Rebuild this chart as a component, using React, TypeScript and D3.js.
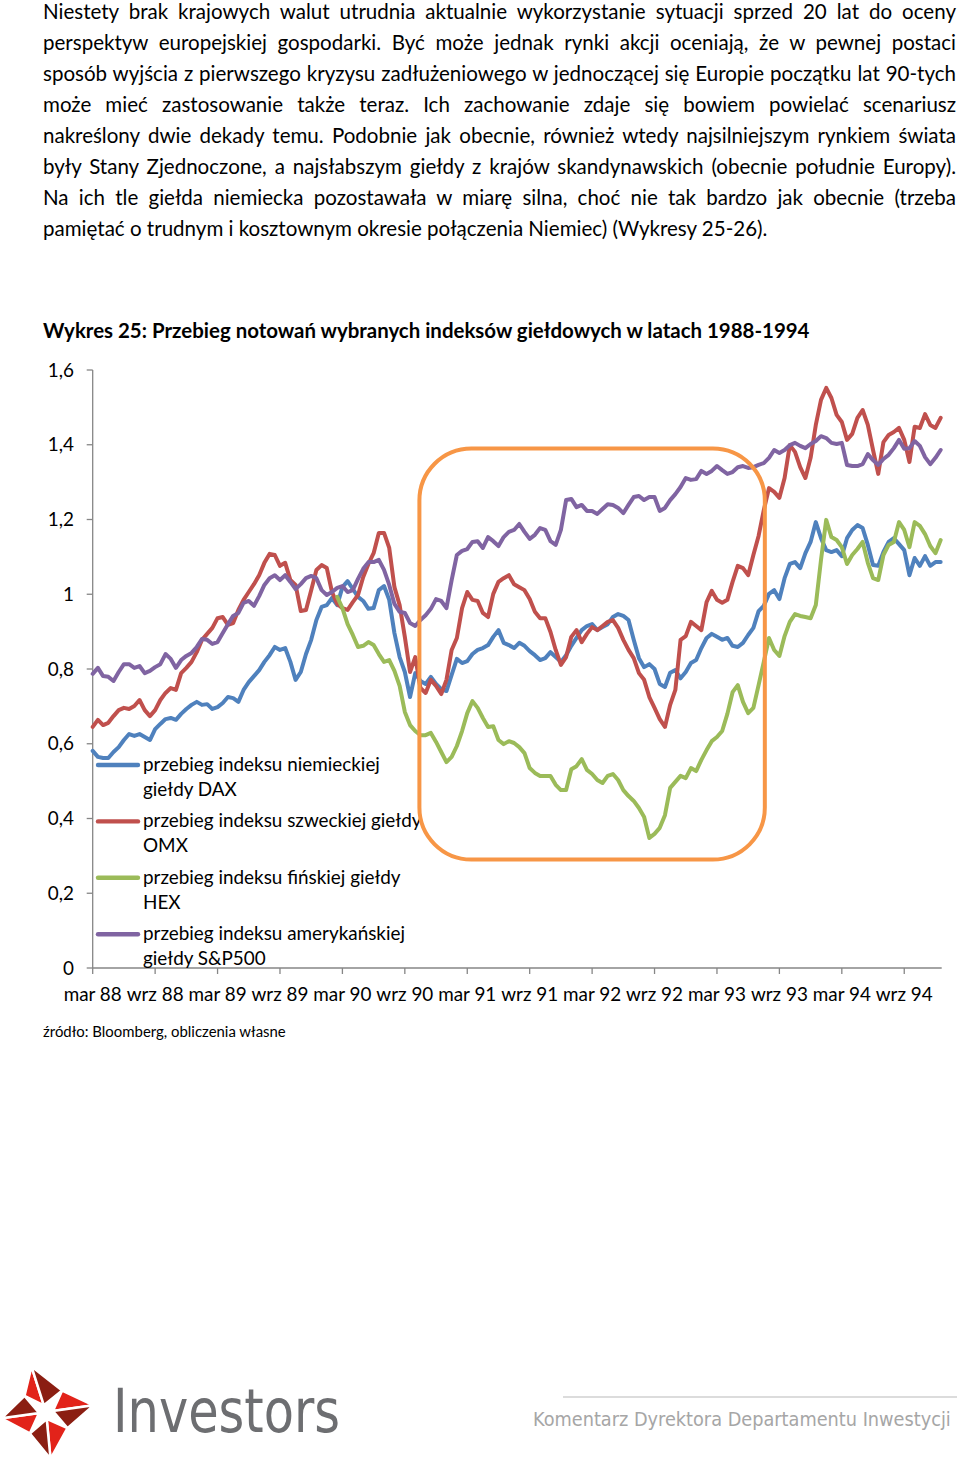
import React, { useEffect, useRef } from 'react';
import * as d3 from 'd3';

// ---------- text content ----------
const BODY_LINES = [
  'Niestety brak krajowych walut utrudnia aktualnie wykorzystanie sytuacji sprzed 20 lat do oceny',
  'perspektyw europejskiej gospodarki. Być może jednak rynki akcji oceniają, że w pewnej postaci',
  'sposób wyjścia z pierwszego kryzysu zadłużeniowego w jednoczącej się Europie początku lat 90-tych',
  'może mieć zastosowanie także teraz. Ich zachowanie zdaje się bowiem powielać scenariusz',
  'nakreślony dwie dekady temu. Podobnie jak obecnie, również wtedy najsilniejszym rynkiem świata',
  'były Stany Zjednoczone, a najsłabszym giełdy z krajów skandynawskich (obecnie południe Europy).',
  'Na ich tle giełda niemiecka pozostawała w miarę silna, choć nie tak bardzo jak obecnie (trzeba',
  'pamiętać o trudnym i kosztownym okresie połączenia Niemiec) (Wykresy 25-26).',
];
const TITLE = 'Wykres 25: Przebieg notowań wybranych indeksów giełdowych w latach 1988-1994';
const SOURCE = 'źródło: Bloomberg, obliczenia własne';
const FOOTER = 'Komentarz Dyrektora Departamentu Inwestycji';
const BRAND = 'Investors';

// ---------- axes ----------
const X_TICK_LABELS = ['mar 88', 'wrz 88', 'mar 89', 'wrz 89', 'mar 90', 'wrz 90', 'mar 91', 'wrz 91', 'mar 92', 'wrz 92', 'mar 93', 'wrz 93', 'mar 94', 'wrz 94'];
const X_TICK_MONTHS = [0, 6, 12, 18, 24, 30, 36, 42, 48, 54, 60, 66, 72, 78]; // months since March 1988
const X_END_MONTHS = 81.6;
const Y_TICKS = [0, 0.2, 0.4, 0.6, 0.8, 1.0, 1.2, 1.4, 1.6];
const STEP_MONTHS = 0.5; // observations twice a month

// ---------- series (index relative to start) ----------
const DAX = [
  0.581, 0.565, 0.562, 0.562, 0.578, 0.591, 0.610, 0.626, 0.621, 0.626,
  0.618, 0.610, 0.639, 0.653, 0.666, 0.669, 0.664, 0.680, 0.693, 0.704,
  0.712, 0.704, 0.706, 0.693, 0.698, 0.709, 0.725, 0.722, 0.712, 0.744,
  0.765, 0.781, 0.797, 0.819, 0.837, 0.859, 0.851, 0.856, 0.819, 0.771,
  0.792, 0.840, 0.878, 0.931, 0.966, 0.971, 0.990, 0.971, 1.019, 1.035,
  1.014, 0.993, 0.982, 0.961, 0.963, 1.011, 1.022, 0.985, 0.896, 0.832,
  0.792, 0.725, 0.789, 0.768, 0.760, 0.779, 0.760, 0.746, 0.741, 0.784,
  0.827, 0.816, 0.821, 0.840, 0.851, 0.856, 0.864, 0.886, 0.904, 0.870,
  0.864, 0.856, 0.870, 0.862, 0.848, 0.837, 0.824, 0.829, 0.845, 0.832,
  0.819, 0.837, 0.862, 0.883, 0.904, 0.915, 0.920, 0.904, 0.912, 0.920,
  0.939, 0.947, 0.942, 0.931, 0.878, 0.829, 0.805, 0.813, 0.800, 0.760,
  0.752, 0.790, 0.797, 0.775, 0.792, 0.816, 0.824, 0.856, 0.883, 0.894,
  0.886, 0.878, 0.883, 0.862, 0.859, 0.870, 0.891, 0.910, 0.955, 0.969,
  1.001, 1.011, 0.987, 1.043, 1.081, 1.086, 1.070, 1.110, 1.140, 1.193,
  1.150, 1.118, 1.113, 1.118, 1.102, 1.150, 1.172, 1.185, 1.177, 1.132,
  1.078, 1.076, 1.113, 1.140, 1.150, 1.134, 1.118, 1.051, 1.097, 1.076,
  1.102, 1.076, 1.086, 1.086,
];
const OMX = [
  0.645, 0.664, 0.650, 0.656, 0.674, 0.690, 0.696, 0.693, 0.701, 0.717,
  0.690, 0.674, 0.690, 0.717, 0.736, 0.749, 0.744, 0.789, 0.803, 0.819,
  0.845, 0.878, 0.894, 0.910, 0.936, 0.939, 0.918, 0.923, 0.958, 0.985,
  1.006, 1.027, 1.051, 1.084, 1.108, 1.105, 1.076, 1.084, 1.038, 1.025,
  0.955, 0.958, 1.011, 1.065, 1.078, 1.070, 1.006, 0.974, 0.963, 0.958,
  0.979, 0.998, 1.046, 1.081, 1.110, 1.164, 1.164, 1.124, 1.019, 0.971,
  0.886, 0.792, 0.832, 0.749, 0.736, 0.771, 0.755, 0.733, 0.771, 0.851,
  0.883, 0.963, 1.006, 0.985, 0.982, 0.950, 0.939, 1.001, 1.033, 1.043,
  1.051, 1.027, 1.019, 1.011, 0.987, 0.953, 0.936, 0.936, 0.899, 0.851,
  0.811, 0.832, 0.886, 0.904, 0.872, 0.894, 0.912, 0.904, 0.915, 0.926,
  0.931, 0.910, 0.878, 0.851, 0.829, 0.789, 0.771, 0.725, 0.696, 0.666,
  0.645, 0.704, 0.744, 0.878, 0.888, 0.926, 0.915, 0.904, 0.979, 1.009,
  0.985, 0.977, 0.985, 1.033, 1.076, 1.070, 1.051, 1.105, 1.156, 1.225,
  1.284, 1.274, 1.258, 1.311, 1.399, 1.381, 1.340, 1.311, 1.365, 1.453,
  1.520, 1.552, 1.525, 1.480, 1.461, 1.413, 1.429, 1.472, 1.493, 1.453,
  1.386, 1.322, 1.407, 1.426, 1.434, 1.445, 1.413, 1.354, 1.448, 1.445,
  1.482, 1.453, 1.445, 1.472,
];
const HEX_START = 47; // HEX series begins in February 1990
const HEX = [
  0.993, 0.963, 0.920,
  0.891, 0.859, 0.862, 0.872, 0.864, 0.840, 0.819, 0.824, 0.795, 0.755,
  0.685, 0.650, 0.634, 0.623, 0.623, 0.629, 0.605, 0.578, 0.551, 0.565,
  0.594, 0.634, 0.682, 0.714, 0.696, 0.669, 0.645, 0.647, 0.610, 0.599,
  0.607, 0.602, 0.591, 0.575, 0.535, 0.522, 0.514, 0.514, 0.514, 0.490,
  0.476, 0.476, 0.532, 0.540, 0.559, 0.530, 0.519, 0.503, 0.495, 0.514,
  0.519, 0.503, 0.476, 0.460, 0.447, 0.428, 0.404, 0.348, 0.359, 0.375,
  0.409, 0.482, 0.498, 0.514, 0.508, 0.535, 0.527, 0.557, 0.583, 0.607,
  0.618, 0.634, 0.680, 0.738, 0.757, 0.712, 0.682, 0.696, 0.757, 0.819,
  0.883, 0.851, 0.835, 0.888, 0.926, 0.947, 0.942, 0.939, 0.936, 0.971,
  1.092, 1.199, 1.153, 1.145, 1.126, 1.081, 1.105, 1.121, 1.140, 1.084,
  1.043, 1.038, 1.105, 1.132, 1.140, 1.193, 1.172, 1.126, 1.193, 1.183,
  1.161, 1.129, 1.110, 1.145,
];
const SP500 = [
  0.787, 0.803, 0.781, 0.779, 0.768, 0.792, 0.813, 0.813, 0.803, 0.808,
  0.789, 0.795, 0.805, 0.813, 0.840, 0.827, 0.803, 0.824, 0.835, 0.843,
  0.859, 0.880, 0.878, 0.867, 0.872, 0.896, 0.920, 0.942, 0.950, 0.977,
  0.982, 0.969, 0.995, 1.025, 1.043, 1.051, 1.038, 1.051, 1.033, 1.014,
  1.027, 1.043, 1.049, 1.043, 1.011, 0.998, 1.006, 1.017, 1.022, 1.006,
  1.011, 1.041, 1.068, 1.086, 1.086, 1.092, 1.065, 1.025, 0.974, 0.953,
  0.950, 0.923, 0.915, 0.931, 0.944, 0.961, 0.987, 0.982, 0.963, 1.038,
  1.105, 1.116, 1.121, 1.140, 1.142, 1.124, 1.153, 1.142, 1.129, 1.153,
  1.167, 1.172, 1.188, 1.167, 1.148, 1.159, 1.177, 1.172, 1.142, 1.132,
  1.172, 1.252, 1.255, 1.233, 1.239, 1.223, 1.223, 1.215, 1.228, 1.241,
  1.239, 1.231, 1.217, 1.239, 1.260, 1.263, 1.252, 1.260, 1.260, 1.223,
  1.231, 1.252, 1.268, 1.287, 1.311, 1.306, 1.308, 1.330, 1.322, 1.330,
  1.343, 1.332, 1.322, 1.327, 1.340, 1.343, 1.338, 1.340, 1.346, 1.351,
  1.365, 1.386, 1.378, 1.386, 1.399, 1.405, 1.397, 1.391, 1.402, 1.410,
  1.423, 1.418, 1.405, 1.402, 1.405, 1.346, 1.343, 1.343, 1.348, 1.375,
  1.359, 1.346, 1.362, 1.373, 1.391, 1.413, 1.389, 1.391, 1.410, 1.397,
  1.367, 1.348, 1.365, 1.386,
];

const SERIES = [
  { values: DAX, start: 0, color: '#4F81BD', label: ['przebieg indeksu niemieckiej', 'giełdy DAX'] },
  { values: OMX, start: 0, color: '#C0504D', label: ['przebieg indeksu szweckiej giełdy', 'OMX'] },
  { values: HEX, start: HEX_START, color: '#9BBB59', label: ['przebieg indeksu fińskiej giełdy', 'HEX'] },
  { values: SP500, start: 0, color: '#8064A2', label: ['przebieg indeksu amerykańskiej', 'giełdy S&P500'] },
];

// highlighted period (months since March 1988, index levels)
const HIGHLIGHT = { from: 31.4, to: 64.6, top: 1.39, bottom: 0.29 };

const FONT = 'Lato, Carlito, Calibri, "Open Sans", sans-serif';
const NARROW = '"Liberation Sans Narrow", "Arial Narrow", "DejaVu Sans Condensed", "Liberation Sans", sans-serif';

export default function App() {
  const ref = useRef<SVGSVGElement | null>(null);

  useEffect(() => {
    const svg = d3.select(ref.current);
    svg.selectAll('*').remove();

    const fit = (sel: any, base: number, target: number) => {
      sel.attr('font-size', base);
      const w = (sel.node() as SVGTextElement).getComputedTextLength();
      const fs = (base * target) / w;
      sel.attr('font-size', fs);
      return fs;
    };

    // ---- body paragraph ----
    const body = svg.append('g').attr('font-family', FONT).attr('fill', '#000');
    const lines = BODY_LINES.map((t, i) =>
      body.append('text').attr('x', 43).attr('y', 19 + i * 31).text(t)
    );
    const bodyFs = fit(lines[lines.length - 1], 20, 725);
    lines.forEach((l, i) => {
      l.attr('font-size', bodyFs);
      if (i < lines.length - 1) {
        const w = (l.node() as SVGTextElement).getComputedTextLength();
        const n = (BODY_LINES[i].match(/ /g) || []).length;
        l.attr('word-spacing', (913 - w) / n);
      }
    });

    // ---- title ----
    const title = svg.append('text')
      .attr('x', 43).attr('y', 338)
      .attr('font-family', FONT).attr('font-weight', 'bold').attr('fill', '#000')
      .text(TITLE);
    fit(title, 20, 767);

    // ---- scales ----
    const x = d3.scaleLinear().domain([0, X_END_MONTHS]).range([92.7, 941.7]);
    const y = d3.scaleLinear().domain([0, 1.6]).range([968, 370]);

    const chart = svg.append('g').attr('font-family', FONT).attr('fill', '#000');

    // legend font size calibration
    const probe = chart.append('text').text(SERIES[0].label[0]);
    const chartFs = fit(probe, 18, 237);
    probe.remove();

    // y axis
    const axisColor = '#868686';
    chart.append('line')
      .attr('x1', x(0)).attr('x2', x(0)).attr('y1', y(1.6)).attr('y2', y(0))
      .attr('stroke', axisColor).attr('stroke-width', 1.3);
    Y_TICKS.forEach((v) => {
      chart.append('line')
        .attr('x1', x(0) - 6).attr('x2', x(0)).attr('y1', y(v)).attr('y2', y(v))
        .attr('stroke', axisColor).attr('stroke-width', 1.3);
      chart.append('text')
        .attr('x', 74).attr('y', y(v)).attr('dy', '0.35em')
        .attr('text-anchor', 'end').attr('font-size', chartFs)
        .text(String(+v.toFixed(1)).replace('.', ','));
    });

    // x axis
    chart.append('line')
      .attr('x1', x(0)).attr('x2', x(X_END_MONTHS)).attr('y1', y(0)).attr('y2', y(0))
      .attr('stroke', axisColor).attr('stroke-width', 1.3);
    X_TICK_MONTHS.forEach((m, i) => {
      chart.append('line')
        .attr('x1', x(m)).attr('x2', x(m)).attr('y1', y(0)).attr('y2', y(0) + 6)
        .attr('stroke', axisColor).attr('stroke-width', 1.3);
      chart.append('text')
        .attr('x', x(m)).attr('y', 1001)
        .attr('text-anchor', 'middle').attr('font-size', chartFs)
        .text(X_TICK_LABELS[i]);
    });

    // series
    SERIES.forEach((s) => {
      const line = d3.line<number>()
        .x((_, i) => x((i + s.start) * STEP_MONTHS))
        .y((d) => y(d));
      chart.append('path')
        .attr('d', line(s.values) as string)
        .attr('fill', 'none')
        .attr('stroke', s.color)
        .attr('stroke-width', 4)
        .attr('stroke-linejoin', 'round')
        .attr('stroke-linecap', 'round');
    });

    // legend
    SERIES.forEach((s, k) => {
      const ly = 765 + k * 56.4;
      chart.append('line')
        .attr('x1', 98).attr('x2', 138).attr('y1', ly).attr('y2', ly)
        .attr('stroke', s.color).attr('stroke-width', 4.4).attr('stroke-linecap', 'round');
      chart.append('text').attr('x', 143).attr('y', ly + 6).attr('font-size', chartFs).text(s.label[0]);
      chart.append('text').attr('x', 143).attr('y', ly + 31).attr('font-size', chartFs).text(s.label[1]);
    });

    // highlight rounded box
    chart.append('rect')
      .attr('x', x(HIGHLIGHT.from)).attr('y', y(HIGHLIGHT.top))
      .attr('width', x(HIGHLIGHT.to) - x(HIGHLIGHT.from))
      .attr('height', y(HIGHLIGHT.bottom) - y(HIGHLIGHT.top))
      .attr('rx', 52).attr('ry', 52)
      .attr('fill', 'none').attr('stroke', '#F79646').attr('stroke-width', 4);

    // source
    const src = svg.append('text')
      .attr('x', 43).attr('y', 1037)
      .attr('font-family', FONT).attr('fill', '#000')
      .text(SOURCE);
    fit(src, 15, 243);

    // ---- footer: logo ----
    const logo = svg.append('g').attr('transform', 'translate(46,1412) rotate(-8)');
    const tips: [number, number][] = [[-8, -47], [48, 0], [-2, 47], [-45, 0]];
    const diag: [number, number][] = [[19, -19], [19, 19], [-19, 19], [-19, -19]];
    tips.forEach((t, k) => {
      const left = diag[(k + 3) % 4];
      const right = diag[k];
      const len = Math.hypot(t[0], t[1]);
      const c: [number, number] = [(t[0] / len) * 7, (t[1] / len) * 7];
      logo.append('polygon')
        .attr('points', [t, left, c].map((p) => p.join(',')).join(' '))
        .attr('fill', '#E2231A').attr('stroke', '#fff').attr('stroke-width', 2.5).attr('stroke-linejoin', 'miter');
      logo.append('polygon')
        .attr('points', [t, c, right].map((p) => p.join(',')).join(' '))
        .attr('fill', '#8B1E12').attr('stroke', '#fff').attr('stroke-width', 2.5).attr('stroke-linejoin', 'miter');
    });

    svg.append('text')
      .attr('x', 113).attr('y', 1432)
      .attr('font-family', NARROW).attr('font-size', 60).attr('fill', '#6d6e71')
      .attr('textLength', 227).attr('lengthAdjust', 'spacingAndGlyphs')
      .text(BRAND);

    svg.append('line')
      .attr('x1', 563).attr('x2', 957).attr('y1', 1397).attr('y2', 1397)
      .attr('stroke', '#dcdcdc').attr('stroke-width', 2);
    const foot = svg.append('text')
      .attr('x', 533).attr('y', 1426)
      .attr('font-family', NARROW).attr('fill', '#a6a6a6')
      .text(FOOTER);
    fit(foot, 21, 418);
  }, []);

  return (
    <svg
      ref={ref}
      width={960}
      height={1459}
      style={{ position: 'absolute', left: 0, top: 0, display: 'block', background: '#fff' }}
    />
  );
}
